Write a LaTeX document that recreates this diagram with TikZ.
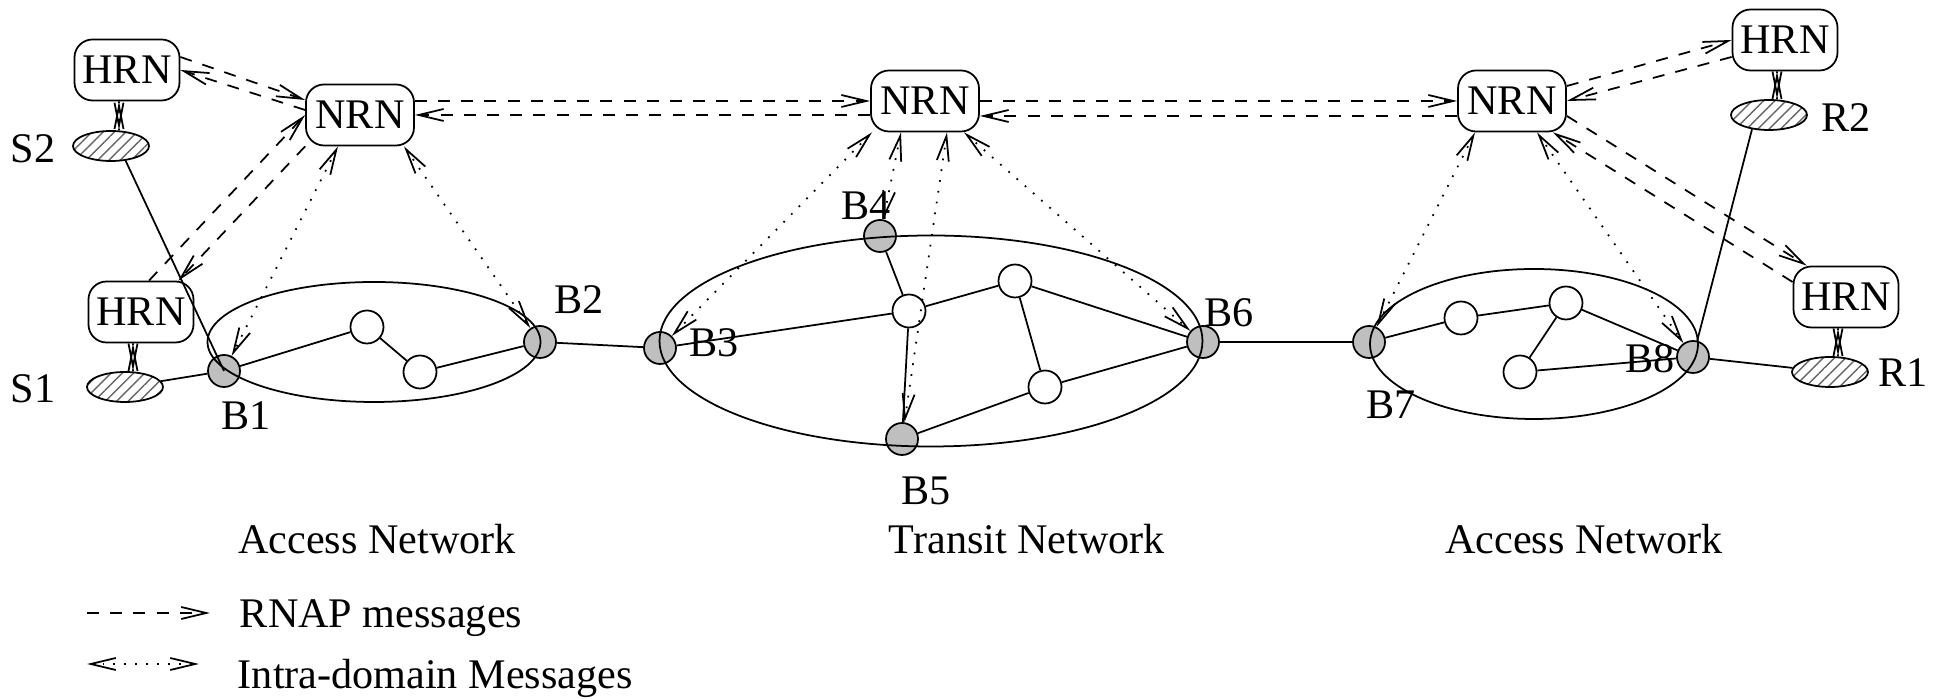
\documentclass[tikz,border=0pt]{standalone}
\usepackage{fontspec}
\setmainfont{Liberation Serif}
\usetikzlibrary{arrows.meta,shapes.geometric,patterns.meta,positioning}

\begin{document}
\begin{tikzpicture}[x=0.1mm,y=-0.1mm,line width=0.5pt,
  font=\fontsize{12}{14}\selectfont,
  rn/.style={draw,rounded corners=1.8mm,minimum height=6.1mm,inner sep=0pt},
  hrn/.style={rn,minimum width=10.5mm},
  nrn/.style={rn,minimum width=10.8mm},
  host/.style={ellipse,draw,minimum width=7.6mm,minimum height=3mm,inner sep=0pt,
    pattern={Lines[angle=45,distance=0.8mm,line width=0.4pt]},pattern color=black!60},
  bdr/.style={circle,draw,fill=black!25,minimum size=3.2mm,inner sep=0pt},
  rtr/.style={circle,draw,minimum size=3.3mm,inner sep=0pt},
  net/.style={ellipse,draw,inner sep=0pt},
  lbl/.style={inner sep=0pt},
  rnap/.style={dash pattern=on 3.4pt off 3.2pt,-{Straight Barb[length=2.5mm,width=1.2mm]}},
  intra/.style={dash pattern=on 0.5pt off 2.6pt,
    {Straight Barb[length=2.5mm,width=1.2mm]}-{Straight Barb[length=2.5mm,width=1.2mm]}},
  hlink/.style={dash pattern=on 0.5pt off 2pt,-{Straight Barb[length=2.3mm,width=0.9mm]}}]

  \useasboundingbox (0,0) rectangle (1946,699);

  % reservation nodes
  \node[hrn] (hrnS2) at (127,70) {HRN};
  \node[hrn] (hrnS1) at (141,312) {HRN};
  \node[hrn] (hrnR2) at (1785,40) {HRN};
  \node[hrn] (hrnR1) at (1846,297) {HRN};
  \node[nrn] (nrnA) at (360,115) {NRN};
  \node[nrn] (nrnT) at (925,101) {NRN};
  \node[nrn] (nrnB) at (1512,101) {NRN};

  % hosts
  \node[host] (S2) at (111,146) {};
  \node[host] (S1) at (125,387) {};
  \node[host] (R2) at (1769,115) {};
  \node[host] (R1) at (1830,372) {};
  \node[lbl] (lS2) at (33,149) {S2};
  \node[lbl] (lS1) at (33,389) {S1};
  \node[lbl] (lR2) at (1846,118) {R2};
  \node[lbl] (lR1) at (1903,373) {R1};

  % border routers
  \node[bdr] (B1) at (224,371) {};
  \node[bdr] (B2) at (540,342) {};
  \node[bdr] (B3) at (660,348) {};
  \node[bdr] (B4) at (880,236) {};
  \node[bdr] (B5) at (902,439) {};
  \node[bdr] (B6) at (1203,342) {};
  \node[bdr] (B7) at (1369,342) {};
  \node[bdr] (B8) at (1693,357) {};
  \node[lbl] (lB1) at (246,416) {B1};
  \node[lbl] (lB2) at (579,300) {B2};
  \node[lbl] (lB3) at (714,343) {B3};
  \node[lbl] (lB4) at (866,206) {B4};
  \node[lbl] (lB5) at (926,491) {B5};
  \node[lbl] (lB6) at (1229,313) {B6};
  \node[lbl] (lB7) at (1391,405) {B7};
  \node[lbl] (lB8) at (1650,359) {B8};

  % interior routers
  \node[rtr] (a1) at (367,327) {};
  \node[rtr] (a2) at (420,372) {};
  \node[rtr] (t1) at (909,311) {};
  \node[rtr] (t2) at (1015,281) {};
  \node[rtr] (t3) at (1045,387) {};
  \node[rtr] (c1) at (1461,318) {};
  \node[rtr] (c2) at (1566,303) {};
  \node[rtr] (c3) at (1520,372) {};

  % domains
  \node[net,minimum width=33.3mm,minimum height=12mm] (accL) at (374,342) {};
  \node[net,minimum width=54.3mm,minimum height=21.1mm] (trans) at (931,341) {};
  \node[net,minimum width=32.8mm,minimum height=15mm] (accR) at (1534,344) {};
  \node[lbl] (nAccL) at (377,539) {Access Network};
  \node[lbl] (nTrans) at (1027,539) {Transit Network};
  \node[lbl] (nAccR) at (1584,539) {Access Network};

  % links
  \draw (S1) -- (B1) (S2.-45) -- (B1.center);
  \draw (B1) -- (a1) (a1) -- (a2) (a2) -- (B2) (B2) -- (B3);
  \draw (B3) -- (t1) (B4) -- (t1) (t1) -- (t2) (t1) -- (B5);
  \draw (t2) -- (t3) (t2) -- (B6) (t3) -- (B6) (t3) -- (B5);
  \draw (B6) -- (B7) (B7) -- (c1) (c1) -- (c2) (c2) -- (c3);
  \draw (c3) -- (B8) (c2) -- (B8) (B8) -- (R1) (R2.-140) -- (B8);

  % host to HRN, both ways
  \foreach \h/\s in {hrnS2/S2,hrnS1/S1,hrnR2/R2,hrnR1/R1}{
    \draw[hlink] ([xshift=-.8mm]\h.south) -- ([xshift=.8mm]\s.north);
    \draw[hlink] ([xshift=.8mm]\s.north) -- ([xshift=-.8mm]\h.south);
  }

  % RNAP messages
  \draw[rnap] ([yshift=1.3mm]hrnS2.east) -- ([yshift=1.5mm]nrnA.west);
  \draw[rnap] ([yshift=.5mm]nrnA.west) -- (hrnS2.east);
  \draw[rnap] ([xshift=.8mm]hrnS1.north) -- (nrnA.west);
  \draw[rnap] (nrnA.south west) -- ([xshift=-1.6mm]hrnS1.north east);
  \draw[rnap] (nrnA.east |- nrnT) -- (nrnT.west);
  \draw[rnap] (nrnT.west |- nrnA) -- (nrnA.east);
  \draw[rnap] (nrnT.east) -- (nrnB.west);
  \draw[rnap] ([yshift=-1.5mm]nrnB.west) -- ([yshift=-1.5mm]nrnT.east);
  \draw[rnap] ([yshift=1.5mm]nrnB.east) -- (hrnR2.west);
  \draw[rnap] ([yshift=-1.7mm]hrnR2.west) -- (nrnB.east);
  \draw[rnap] ([yshift=-1.5mm]nrnB.east) -- ([xshift=1.4mm]hrnR1.north west);
  \draw[rnap] ([yshift=1.5mm]hrnR1.west) -- ([xshift=-1.4mm]nrnB.south east);

  % intra-domain messages
  \draw[intra] ([xshift=-2.2mm]nrnA.south) -- (B1);
  \draw[intra] ([xshift=4.4mm]nrnA.south) -- (B2);
  \draw[intra] ([xshift=-5.3mm]nrnT.south) -- (B3);
  \draw[intra] ([xshift=-2.4mm]nrnT.south) -- (B4);
  \draw[intra] ([xshift=2.2mm]nrnT.south) -- (B5);
  \draw[intra] ([xshift=3.9mm]nrnT.south) -- (B6);
  \draw[intra] ([xshift=-3.7mm]nrnB.south) -- (B7);
  \draw[intra] ([xshift=2.5mm]nrnB.south) -- (B8);

  % legend
  \coordinate (lgA1) at (87,613);
  \coordinate (lgA2) at (210,613);
  \coordinate (lgB1) at (87,664);
  \coordinate (lgB2) at (199,664);
  \draw[rnap] (lgA1) -- (lgA2);
  \draw[intra] (lgB1) -- (lgB2);
  \node[lbl,anchor=base west] (lgA) at (239,628) {RNAP messages};
  \node[lbl,anchor=base west] (lgB) at (237,689) {Intra-domain Messages};
\end{tikzpicture}
\end{document}
